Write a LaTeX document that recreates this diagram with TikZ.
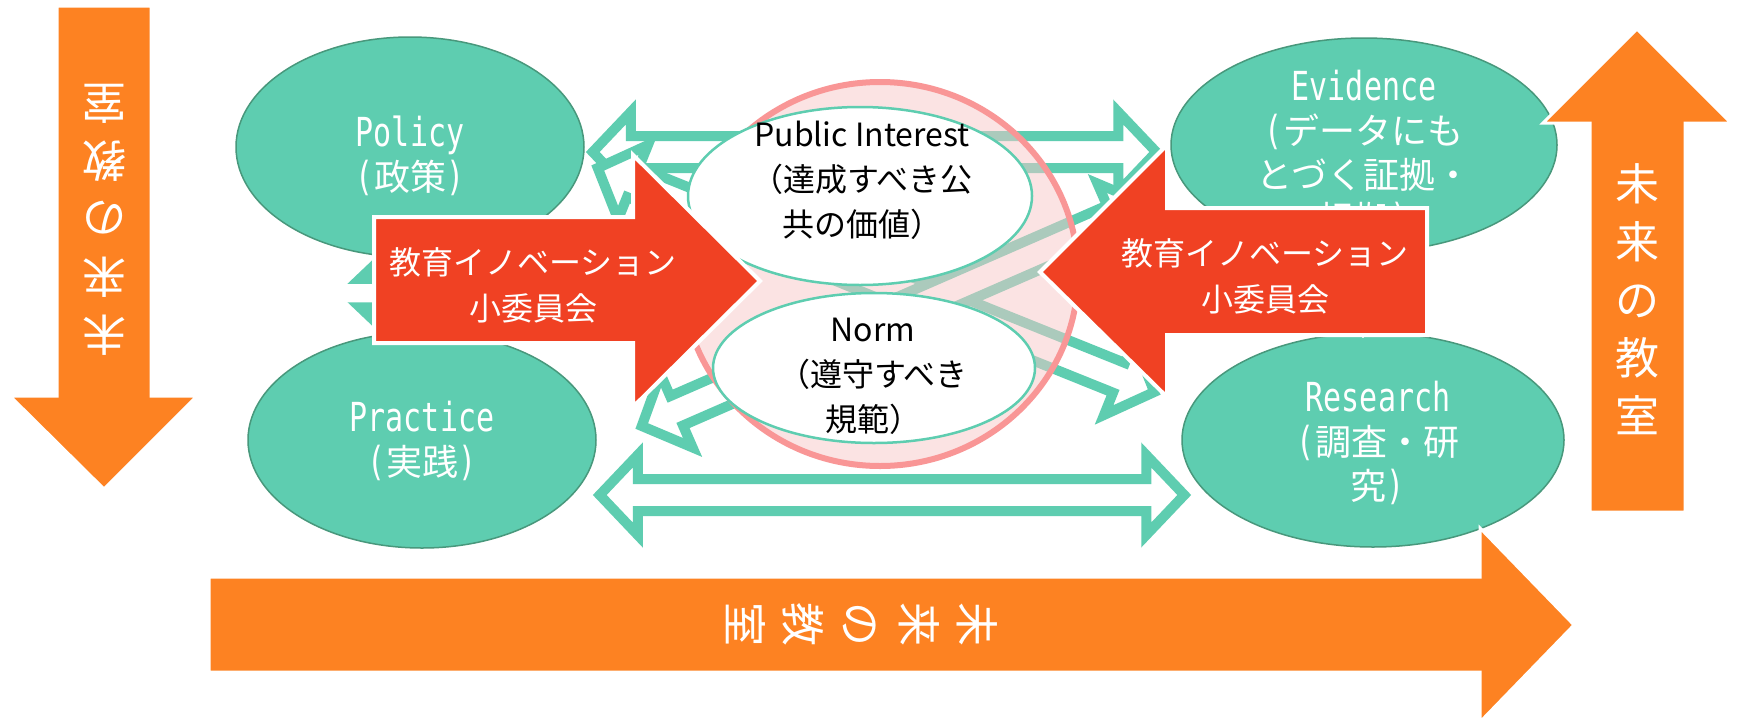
\documentclass[tikz,border=0pt]{standalone}
\usepackage{fontspec}
\setmainfont{Noto Sans CJK JP}
\newfontfamily\nmono[FakeStretch=0.75]{DejaVu Sans Mono}
\usetikzlibrary{calc,shapes.geometric}
\definecolor{tealfill}{RGB}{94,205,176}
\definecolor{tealedge}{RGB}{72,152,124}
\definecolor{redfill}{RGB}{240,65,35}
\definecolor{orangefill}{RGB}{253,130,34}
\definecolor{pinkline}{RGB}{249,150,150}
\definecolor{pinkfill}{RGB}{249,201,201}
\newcommand\nm[1]{{\nmono\fontsize{40pt}{44pt}\selectfont #1}}
\tikzset{
  tealell/.style={ellipse, fill=tealfill, draw=tealedge, line width=1.5pt, inner sep=0pt},
  whiteell/.style={ellipse, fill=white, draw=tealfill, line width=2.5pt, inner sep=0pt},
  tealtext/.style={text=white, align=center, inner sep=0pt, font=\fontsize{36pt}{44pt}\selectfont},
  centertext/.style={text=black, align=center, inner sep=0pt, font=\fontsize{32pt}{45pt}\selectfont},
  redtext/.style={text=white, align=center, inner sep=0pt, font=\fontsize{32pt}{46pt}\selectfont},
  orangetext/.style={text=white, align=center, inner sep=0pt, font=\fontsize{44pt}{58pt}\selectfont},
  blkarrow/.style={draw=tealfill, fill=white, line width=10pt, line join=miter},
  redarrow/.style={fill=redfill, draw=white, line width=4pt, line join=miter},
  orangearrow/.style={fill=orangefill, draw=white, line width=3pt, line join=miter},
}
% double-headed hollow block arrow between two points
\newcommand\blockarrow[2]{%
  \coordinate (ba-a) at (#1);
  \coordinate (ba-b) at (#2);
  \coordinate (ba-a1) at ($(ba-a)!38pt!(ba-b)$);
  \coordinate (ba-b1) at ($(ba-b)!38pt!(ba-a)$);
  \draw[blkarrow] (ba-a) -- ($(ba-a1)!40pt!90:(ba-b)$) -- ($(ba-a1)!16pt!90:(ba-b)$)
    -- ($(ba-b1)!16pt!-90:(ba-a)$) -- ($(ba-b1)!40pt!-90:(ba-a)$) -- (ba-b)
    -- ($(ba-b1)!40pt!90:(ba-a)$) -- ($(ba-b1)!16pt!90:(ba-a)$)
    -- ($(ba-a1)!16pt!-90:(ba-b)$) -- ($(ba-a1)!40pt!-90:(ba-b)$) -- cycle;}
\begin{document}
\begin{tikzpicture}[x=1pt,y=-1pt]
\useasboundingbox (0,0) rectangle (1739,718);
\fill[white] (0,0) rectangle (1739,718);
% four teal ellipses
\node[tealell, minimum width=348pt, minimum height=220pt] (Policy) at (410,147) {};
\node[tealell, minimum width=348pt, minimum height=216pt] (Practice) at (422,440) {};
\node[tealell, minimum width=386pt, minimum height=214pt] (Evidence) at (1364,145) {};
\node[tealell, minimum width=382pt, minimum height=214pt] (Research) at (1373,440) {};
% hollow double arrows
\blockarrow{$(Policy.east)+(8,5)$}{$(Evidence.west)+(-14,7)$}
\blockarrow{$(Practice.east)+(3,55)$}{$(Research.west)+(3,55)$}
\blockarrow{$(Policy.east)+(13,21)$}{$(Research.west)+(-27,-48)$}
\blockarrow{$(Practice.east)+(45,-14)$}{$(Evidence.west)+(-22,60)$}
\blockarrow{$(Policy.south)+(-10,-17)$}{$(Practice.north)+(-22,14)$}
\blockarrow{$(Evidence.south)+(-1,-12)$}{$(Research.north)+(-10,13)$}
% texts of teal ellipses
\node[tealtext] (tPolicy) at (410,156) {\nm{Policy}\\\nm{(}政策\nm{)}};
\node[tealtext] (tPractice) at (422,441) {\nm{Practice}\\\nm{(}実践\nm{)}};
\node[tealtext] (tEvidence) at (1364,151) {\nm{Evidence}\\\nm{(}データにも\\とづく証拠・\\\raisebox{0pt}[0pt][0pt]{根拠\nm{)}}};
\node[tealtext] (tResearch) at (1378,443) {\nm{Research}\\\nm{(}調査・研\\究\nm{)}};
% pink circle
\node[ellipse, minimum width=396pt, minimum height=384pt, inner sep=0pt,
      draw=pinkline, line width=6pt, fill=pinkfill, fill opacity=0.5] (Circle) at (880,274) {};
% white ellipses
\node[whiteell, minimum width=344pt, minimum height=178pt] (PI) at (860,196) {};
\node[whiteell, minimum width=322pt, minimum height=150pt] (Norm) at (874,368) {};
\node[centertext] (tPI) at (862,180) {Public Interest\\（達成すべき公\\共の価値）};
\node[centertext] (tNorm) at (873,376) {Norm\\（遵守すべき\\規範）};
% red arrows
\filldraw[redarrow] (374,217) -- (633,217) -- (633,155) -- (760,281) -- (633,407) -- (633,343) -- (374,343) -- cycle;
\filldraw[redarrow] (1427,208) -- (1167,208) -- (1167,145) -- (1040,272) -- (1167,397) -- (1167,335) -- (1427,335) -- cycle;
\node[redtext] (tRedL) at (533,285) {教育イノベーション\\小委員会};
\node[redtext] (tRedR) at (1265,276) {教育イノベーション\\小委員会};
% orange arrows
\filldraw[orangearrow] (57,6) -- (151,6) -- (151,396) -- (197,396) -- (104,489) -- (10,396) -- (57,396) -- cycle;
\filldraw[orangearrow] (1590,512) -- (1685,512) -- (1685,123) -- (1731,123) -- (1637,29) -- (1543,123) -- (1590,123) -- cycle;
\filldraw[orangearrow] (209,577) -- (1480,577) -- (1480,528) -- (1574,625) -- (1480,722) -- (1480,672) -- (209,672) -- cycle;
\node[orangetext, rotate=180] (tLeft) at (104,220) {未\\来\\の\\教\\室};
\node[orangetext] (tRight) at (1637,299) {未\\来\\の\\教\\室};
\node[orangetext, rotate=-90] (tBottom) at (862,624) {未\\来\\の\\教\\室};
\end{tikzpicture}
\end{document}
